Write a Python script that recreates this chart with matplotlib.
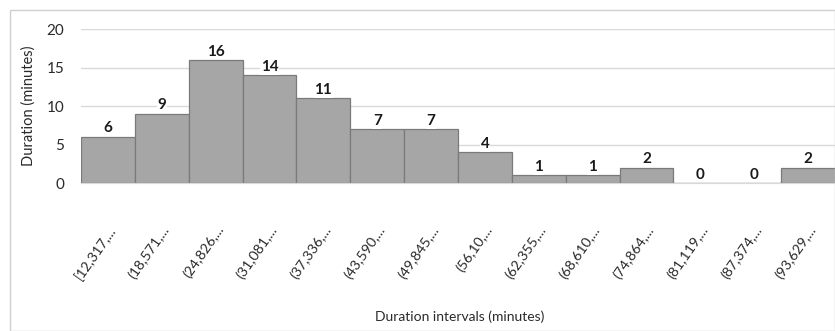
# libraries
import numpy as np
import matplotlib.pyplot as plt
from matplotlib.patches import Rectangle

# data
intervals = ['[12,317,...', '(18,571,...', '(24,826,...', '(31,081,...', '(37,336,...',
             '(43,590,...', '(49,845,...', '(56,10,...', '(62,355,...', '(68,610,...',
             '(74,864,...', '(81,119,...', '(87,374,...', '(93,629,...']
counts = [6, 9, 16, 14, 11, 7, 7, 4, 1, 1, 2, 0, 0, 2]

plt.rcParams['font.family'] = ['Lato', 'DejaVu Sans']

fig = plt.figure(figsize=(8.35, 3.31), dpi=100)
ax = fig.add_axes([0.097, 0.447, 0.903, 0.465])

# outer chart border
fig.patches.append(Rectangle((10 / 835, 0.0), 1 - 10 / 835, 1 - 10 / 331,
                             transform=fig.transFigure, fill=False,
                             edgecolor='#d0d0d0', linewidth=1))

x = np.arange(len(counts))
ax.bar(x, counts, width=1.0, color='#a6a6a6', edgecolor='#7a7a7a', linewidth=0.9, zorder=2)

# value labels with white box over the bar top
for xi, c in zip(x, counts):
    ax.annotate(str(c), (xi, c), xytext=(0, 1), textcoords='offset points',
                ha='center', va='bottom', fontsize=11, fontweight='bold', color='#1a1a1a',
                bbox=dict(boxstyle='square,pad=0.05', facecolor='white', edgecolor='none'),
                zorder=3)

ax.set_xlim(-0.5, len(counts) - 0.5)
ax.set_ylim(0, 20)
ax.set_yticks([0, 5, 10, 15, 20])
ax.grid(axis='y', color='#d9d9d9', linewidth=1, zorder=0)
ax.set_axisbelow(True)

for s in ['top', 'right', 'left']:
    ax.spines[s].set_visible(False)
ax.spines['bottom'].set_color('#d9d9d9')

ax.set_xticks(x)
ax.set_xticklabels(intervals, rotation=55, ha='right', rotation_mode='anchor',
                   fontsize=10.2, color='#2a2a2a')
ax.tick_params(axis='x', length=0, pad=29)
ax.tick_params(axis='y', length=0, pad=12, labelsize=11, labelcolor='#2a2a2a')

ax.set_ylabel('Duration (minutes)', fontsize=10.5, color='#2a2a2a', labelpad=8)
fig.text(0.55, 0.042, 'Duration intervals (minutes)', ha='center', va='center',
         fontsize=10, color='#2a2a2a')

fig.savefig('out.png', dpi=100)
